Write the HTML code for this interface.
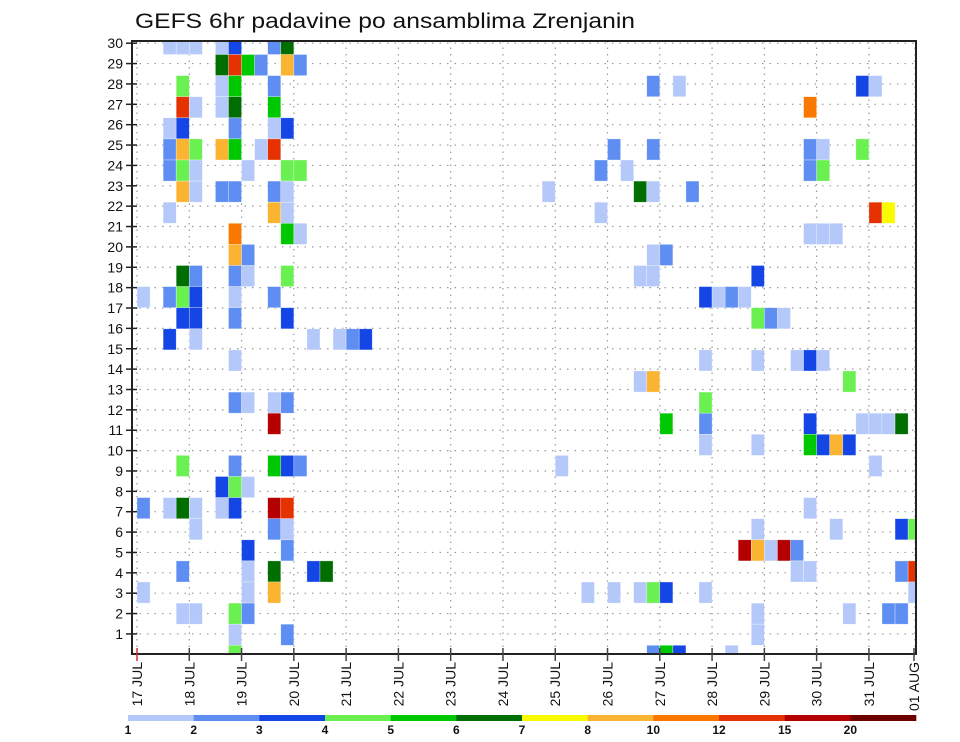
<!DOCTYPE html>
<html><head><meta charset="utf-8">
<style>
html,body{margin:0;padding:0;background:#fff;}
svg{display:block;font-family:"Liberation Sans",sans-serif;}
</style></head>
<body>
<svg id="chart" width="960" height="742" viewBox="0 0 960 742" xmlns="http://www.w3.org/2000/svg">
<text x="135" y="28" font-size="21" textLength="500" lengthAdjust="spacingAndGlyphs" fill="#111">GEFS 6hr padavine po ansamblima Zrenjanin</text>
<g id="grid"></g>
<g id="cellsG"></g>
<g id="axes"></g>
<g id="legend"></g>
</svg>
<script>
const dayLabels = ["17 JUL","18 JUL","19 JUL","20 JUL","21 JUL","22 JUL","23 JUL","24 JUL","25 JUL","26 JUL","27 JUL","28 JUL","29 JUL","30 JUL","31 JUL","01 AUG"];
const memberLabels = [1,2,3,4,5,6,7,8,9,10,11,12,13,14,15,16,17,18,19,20,21,22,23,24,25,26,27,28,29,30];
const levelLabels = ["1","2","3","4","5","6","7","8","10","12","15","20"];
const levelThresholds = [1,2,3,4,5,6,7,8,10,12,15,20];
const levelColors = ["#b4c8fa","#5f8ef2","#1446e6","#6af050","#00c800","#006e00","#fafa00","#fab432","#fa7800","#e63200","#b40000","#6e0000"];
// [member row index (0=bottom), 6hr step index from 17 JUL 00Z, precip mm]
const cells = [
[29,2,1.5],[29,3,1.5],[29,4,1.5],[29,6,1.5],[29,7,3.5],[29,10,2.5],[29,11,6.5],
[28,6,6.5],[28,7,13],[28,8,5.5],[28,9,2.5],[28,11,9],[28,12,2.5],
[27,3,4.5],[27,6,1.5],[27,7,5.5],[27,10,2.5],[27,39,2.5],[27,41,1.5],[27,55,3.5],[27,56,1.5],
[26,3,13],[26,4,1.5],[26,6,1.5],[26,7,6.5],[26,10,5.5],[26,51,11],
[25,2,1.5],[25,3,3.5],[25,7,2.5],[25,10,1.5],[25,11,3.5],
[24,2,2.5],[24,3,9],[24,4,4.5],[24,6,9],[24,7,5.5],[24,9,1.5],[24,10,13],[24,36,2.5],[24,39,2.5],[24,51,2.5],[24,52,1.5],[24,55,4.5],
[23,2,2.5],[23,3,4.5],[23,4,1.5],[23,8,1.5],[23,11,4.5],[23,12,4.5],[23,35,2.5],[23,37,1.5],[23,51,2.5],[23,52,4.5],
[22,3,9],[22,4,1.5],[22,6,2.5],[22,7,2.5],[22,10,2.5],[22,11,1.5],[22,31,1.5],[22,38,6.5],[22,39,1.5],[22,42,2.5],
[21,2,1.5],[21,10,9],[21,11,1.5],[21,35,1.5],[21,56,13],[21,57,7.5],
[20,7,11],[20,11,5.5],[20,12,1.5],[20,51,1.5],[20,52,1.5],[20,53,1.5],
[19,7,9],[19,8,2.5],[19,39,1.5],[19,40,2.5],
[18,3,6.5],[18,4,2.5],[18,7,2.5],[18,8,1.5],[18,11,4.5],[18,38,1.5],[18,39,1.5],[18,47,3.5],
[17,0,1.5],[17,2,2.5],[17,3,4.5],[17,4,3.5],[17,7,1.5],[17,10,2.5],[17,43,3.5],[17,44,1.5],[17,45,2.5],[17,46,1.5],
[16,3,3.5],[16,4,3.5],[16,7,2.5],[16,11,3.5],[16,47,4.5],[16,48,2.5],[16,49,1.5],
[15,2,3.5],[15,4,1.5],[15,13,1.5],[15,15,1.5],[15,16,2.5],[15,17,3.5],
[14,7,1.5],[14,43,1.5],[14,47,1.5],[14,50,1.5],[14,51,3.5],[14,52,1.5],
[13,38,1.5],[13,39,9],[13,54,4.5],
[12,7,2.5],[12,8,1.5],[12,10,1.5],[12,11,2.5],[12,43,4.5],
[11,10,17],[11,40,5.5],[11,43,2.5],[11,51,3.5],[11,55,1.5],[11,56,1.5],[11,57,1.5],[11,58,6.5],
[10,43,1.5],[10,47,1.5],[10,51,5.5],[10,52,3.5],[10,53,9],[10,54,3.5],
[9,3,4.5],[9,7,2.5],[9,10,5.5],[9,11,3.5],[9,12,2.5],[9,32,1.5],[9,56,1.5],
[8,6,3.5],[8,7,4.5],[8,8,1.5],
[7,0,2.5],[7,2,1.5],[7,3,6.5],[7,4,1.5],[7,6,1.5],[7,7,3.5],[7,10,17],[7,11,13],[7,51,1.5],
[6,4,1.5],[6,10,2.5],[6,11,1.5],[6,47,1.5],[6,53,1.5],[6,58,3.5],[6,59,4.5],
[5,8,3.5],[5,11,2.5],[5,46,17],[5,47,9],[5,48,1.5],[5,49,17],[5,50,2.5],
[4,3,2.5],[4,8,1.5],[4,10,6.5],[4,13,3.5],[4,14,6.5],[4,50,1.5],[4,51,1.5],[4,58,2.5],[4,59,13],
[3,0,1.5],[3,8,1.5],[3,10,9],[3,34,1.5],[3,36,1.5],[3,38,1.5],[3,39,4.5],[3,40,3.5],[3,43,1.5],[3,59,1.5],
[2,3,1.5],[2,4,1.5],[2,7,4.5],[2,8,2.5],[2,47,1.5],[2,54,1.5],[2,57,2.5],[2,58,2.5],
[1,7,1.5],[1,11,2.5],[1,47,1.5],
[0,7,4.5],[0,39,2.5],[0,40,5.5],[0,41,3.5],[0,45,1.5]
];

const NS = "http://www.w3.org/2000/svg";
const PL = 132, PR = 916, PT = 41, PB = 654;
function xDay(d){ return 137 + d*52.28; }
function xStep(k){ return 137 + k*13.07; }
function yLine(r){ return 654.3 - r*20.37; }
function yCellTop(n){ return 645.3 - n*21.1; }
function colorFor(v){
  let c = levelColors[0];
  for (let i=0;i<levelThresholds.length;i++){ if (v>=levelThresholds[i]) c = levelColors[i]; }
  return c;
}
function mk(tag, attrs, parent){
  const e = document.createElementNS(NS, tag);
  for (const k in attrs) e.setAttribute(k, attrs[k]);
  parent.appendChild(e);
  return e;
}
const grid = document.getElementById("grid");
const cg = document.getElementById("cellsG");
const axes = document.getElementById("axes");
const legend = document.getElementById("legend");

// grid
memberLabels.forEach(function(m){
  const y = yLine(m);
  const l = mk("line",{x1:PL,x2:PR,y1:y,y2:y,stroke:"#999","stroke-width":1.2,"stroke-dasharray":"1.5 6"},grid);
  
  
});
dayLabels.forEach(function(lab,d){
  const x = Math.min(xDay(d), PR-1);
  const l = mk("line",{x1:x,x2:x,y1:PT,y2:PB,stroke:"#999","stroke-width":1.2,"stroke-dasharray":"1.5 5"},grid);
  
  
});

// cells
const clip = mk("clipPath",{id:"pc"},document.getElementById("chart"));
mk("rect",{x:PL,y:PT,width:PR-PL,height:PB-PT},clip);
cg.setAttribute("clip-path","url(#pc)");
cells.forEach(function(c){
  const r = mk("rect",{x:xStep(c[1]).toFixed(2),y:yCellTop(c[0]).toFixed(2),width:13.07,height:21.1,fill:colorFor(c[2]),stroke:"rgba(255,255,255,0.5)","stroke-width":0.6},cg);
  
  
});

// frame
const fr = mk("rect",{x:PL,y:PT,width:PR-PL,height:PB-PT,fill:"none",stroke:"#222","stroke-width":2},axes);



// y ticks/labels
memberLabels.forEach(function(m){
  const y = yLine(m);
  const t = mk("line",{x1:PL-6,x2:PL+5,y1:y,y2:y,stroke:"#222","stroke-width":1.5},axes);
  
  
  const tx = mk("text",{x:PL-9,y:y+5,"text-anchor":"end","font-size":14,fill:"#111"},axes);
  tx.textContent = m;
  
  
});
// x ticks/labels
dayLabels.forEach(function(lab,d){
  const x = Math.min(xDay(d), PR-2);
  const t = mk("line",{x1:x,x2:x,y1:PB-6,y2:PB+7,stroke:d===0?"#c33":"#444","stroke-width":1.5},axes);
  
  
  const tx = mk("text",{x:0,y:0,"text-anchor":"end","font-size":14,fill:"#111",transform:"translate("+(x+5)+","+(PB+8)+") rotate(-90)"},axes);
  tx.textContent = lab;
  
  
});

// legend
const segW = (916-128)/levelColors.length;
levelColors.forEach(function(col,i){
  const r = mk("rect",{x:128+i*segW,y:715,width:segW+0.3,height:6,fill:col},legend);
  
  
  const t = mk("text",{x:128+i*segW,y:734,"text-anchor":"middle","font-size":12,"font-weight":"bold",fill:"#111"},legend);
  t.textContent = levelLabels[i];
  
  
});
</script>
</body></html>
